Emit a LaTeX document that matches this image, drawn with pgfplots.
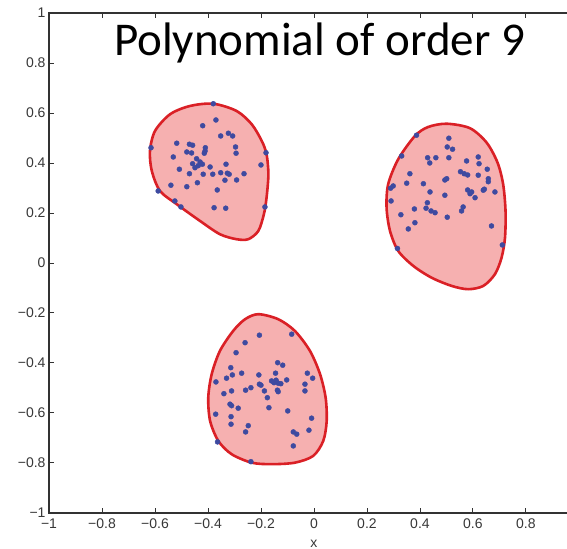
\documentclass[border=0pt]{standalone}
\usepackage{pgfplots}
\pgfplotsset{compat=1.18}
\usepackage{fontspec}
\setmainfont{Liberation Sans}
\newfontfamily\titlefont{Carlito}

\definecolor{axisgray}{RGB}{50,50,50}
\definecolor{ticktext}{RGB}{55,55,55}
\definecolor{blobedge}{RGB}{218,32,38}
\definecolor{blobfill}{RGB}{246,176,176}
\definecolor{dotblue}{RGB}{62,74,160}

\pgfplotstableread{
x y
-0.380 0.637
-0.370 0.572
-0.420 0.549
-0.323 0.519
-0.307 0.508
-0.352 0.508
-0.518 0.479
-0.470 0.475
-0.458 0.471
-0.410 0.461
-0.296 0.464
-0.480 0.444
-0.462 0.440
-0.411 0.448
-0.414 0.439
-0.294 0.439
-0.615 0.461
-0.181 0.441
-0.531 0.424
-0.443 0.417
-0.430 0.404
-0.458 0.397
-0.421 0.395
-0.437 0.389
-0.449 0.381
-0.508 0.375
-0.392 0.384
-0.332 0.395
-0.200 0.392
-0.470 0.357
-0.418 0.355
-0.382 0.355
-0.352 0.361
-0.327 0.359
-0.320 0.355
-0.264 0.357
-0.336 0.331
-0.292 0.332
-0.440 0.321
-0.540 0.311
-0.480 0.305
-0.365 0.292
-0.588 0.288
-0.525 0.248
-0.502 0.224
-0.377 0.221
-0.333 0.219
-0.185 0.224
}\clusterA

\pgfplotstableread{
x y
0.387 0.511
0.509 0.499
0.503 0.464
0.523 0.455
0.331 0.428
0.429 0.421
0.460 0.421
0.509 0.421
0.620 0.424
0.437 0.400
0.576 0.408
0.623 0.397
0.654 0.375
0.553 0.365
0.567 0.357
0.580 0.352
0.362 0.357
0.620 0.351
0.658 0.337
0.658 0.325
0.501 0.337
0.494 0.332
0.350 0.319
0.413 0.317
0.299 0.308
0.289 0.299
0.438 0.284
0.580 0.292
0.595 0.284
0.589 0.277
0.639 0.291
0.643 0.295
0.683 0.284
0.494 0.271
0.608 0.261
0.291 0.248
0.428 0.241
0.563 0.224
0.557 0.208
0.423 0.219
0.379 0.216
0.442 0.208
0.457 0.201
0.328 0.193
0.503 0.183
0.381 0.161
0.356 0.136
0.670 0.148
0.315 0.058
0.711 0.072
}\clusterB

\pgfplotstableread{
x y
-0.206 -0.289
-0.084 -0.285
-0.260 -0.319
-0.294 -0.359
-0.137 -0.399
-0.118 -0.409
-0.314 -0.419
-0.273 -0.441
-0.308 -0.448
-0.330 -0.461
-0.208 -0.448
-0.145 -0.441
-0.025 -0.441
-0.005 -0.461
-0.370 -0.476
-0.103 -0.468
-0.160 -0.472
-0.151 -0.479
-0.143 -0.469
-0.135 -0.481
-0.125 -0.483
-0.206 -0.485
-0.200 -0.489
-0.034 -0.485
-0.238 -0.499
-0.258 -0.509
-0.311 -0.512
-0.340 -0.523
-0.187 -0.512
-0.138 -0.509
-0.135 -0.515
-0.034 -0.512
-0.176 -0.539
-0.317 -0.565
-0.311 -0.571
-0.286 -0.581
-0.170 -0.579
-0.099 -0.592
-0.371 -0.605
-0.313 -0.615
-0.009 -0.621
-0.313 -0.645
-0.248 -0.651
-0.078 -0.676
-0.065 -0.685
-0.258 -0.676
-0.019 -0.669
-0.078 -0.732
-0.364 -0.716
-0.238 -0.795
}\clusterC

\begin{document}
\begin{tikzpicture}
\begin{axis}[
  x=265pt, y=250pt,
  xmin=-1, xmax=1, ymin=-1, ymax=1,
  clip=false,
  axis line style={axisgray, line width=1.4pt},
  tick style={axisgray, line width=0.9pt},
  tick align=inside,
  major tick length=5pt,
  xtick={-1,-0.8,-0.6,-0.4,-0.2,0,0.2,0.4,0.6,0.8},
  xticklabels={−1,−0.8,−0.6,−0.4,−0.2,0,0.2,0.4,0.6,0.8},
  ytick={-1,-0.8,-0.6,-0.4,-0.2,0,0.2,0.4,0.6,0.8,1},
  yticklabels={−1,−0.8,−0.6,−0.4,−0.2,0,0.2,0.4,0.6,0.8,1},
  ticklabel style={font=\fontsize{14}{16}\selectfont, text=ticktext},
  xticklabel style={yshift=-2pt},
]
% decision regions
\addplot[draw=blobedge, line width=2.6pt, fill=blobfill, smooth cycle] coordinates {
(-0.380,0.637) (-0.292,0.608) (-0.235,0.555) (-0.197,0.488) (-0.179,0.435)
(-0.172,0.355) (-0.179,0.261) (-0.189,0.195) (-0.210,0.128) (-0.248,0.095)
(-0.292,0.095) (-0.355,0.115) (-0.430,0.168) (-0.518,0.235) (-0.581,0.288)
(-0.612,0.368) (-0.619,0.448) (-0.600,0.528) (-0.543,0.595) (-0.468,0.628)
};
\addplot[draw=blobedge, line width=2.6pt, fill=blobfill, smooth cycle] coordinates {
(0.501,0.557) (0.589,0.539) (0.652,0.481) (0.693,0.401) (0.714,0.315)
(0.723,0.208) (0.721,0.101) (0.708,0.021) (0.683,-0.045) (0.639,-0.092)
(0.582,-0.105) (0.520,-0.092) (0.444,-0.059) (0.375,-0.012) (0.318,0.048)
(0.287,0.128) (0.274,0.221) (0.280,0.315) (0.318,0.415) (0.381,0.508)
(0.431,0.544)
};
\addplot[draw=blobedge, line width=2.6pt, fill=blobfill, smooth cycle] coordinates {
(-0.210,-0.205) (-0.135,-0.225) (-0.072,-0.272) (-0.015,-0.352) (0.023,-0.445)
(0.044,-0.539) (0.048,-0.632) (0.035,-0.712) (-0.003,-0.772) (-0.072,-0.799)
(-0.160,-0.805) (-0.235,-0.799) (-0.311,-0.765) (-0.361,-0.712) (-0.392,-0.632)
(-0.399,-0.539) (-0.386,-0.445) (-0.355,-0.352) (-0.305,-0.272) (-0.260,-0.225)
};
% samples
\addplot[only marks, mark=*, mark size=2.5pt, draw=dotblue, fill=dotblue] table {\clusterA};
\addplot[only marks, mark=*, mark size=2.5pt, draw=dotblue, fill=dotblue] table {\clusterB};
\addplot[only marks, mark=*, mark size=2.5pt, draw=dotblue, fill=dotblue] table {\clusterC};

\node[font=\titlefont\fontsize{47}{50}\selectfont, anchor=base, text=black]
  at (axis cs:0.021,0.83) {Polynomial of order 9};
\node[font=\fontsize{14}{16}\selectfont, text=ticktext, anchor=base]
  at (axis cs:0,-1.137) {x};

\coordinate (bbsw) at (axis cs:-1.185,-1.144);
\coordinate (bbne) at (axis cs:0.955,1.052);
\end{axis}
\pgfresetboundingbox
\useasboundingbox (bbsw) rectangle (bbne);
\end{tikzpicture}
\end{document}
